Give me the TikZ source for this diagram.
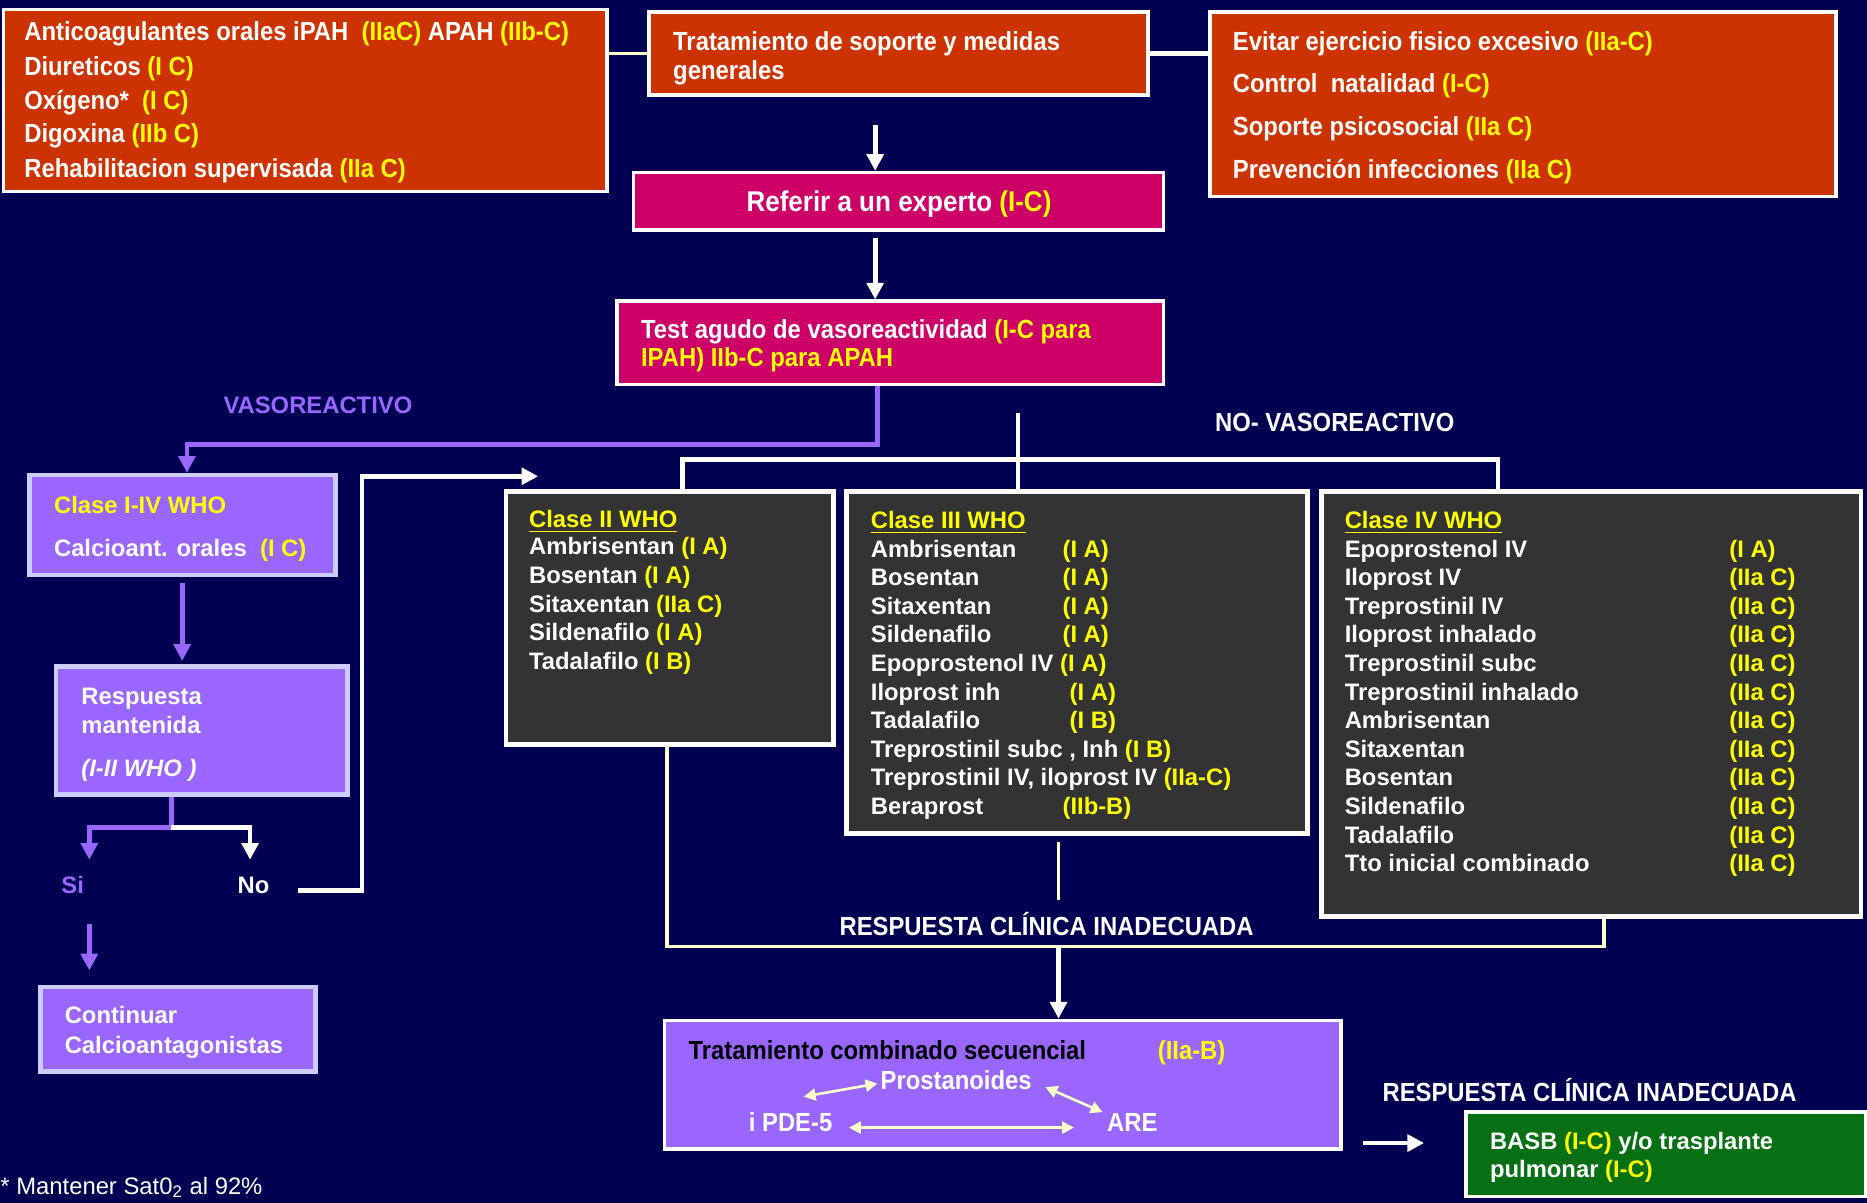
\documentclass[tikz,border=0pt]{standalone}
\usepackage{fontspec}
\setmainfont{Liberation Sans}
\newfontfamily\nf[FakeStretch=0.91]{Liberation Sans}
\usetikzlibrary{arrows.meta,fit}
\definecolor{navy}{RGB}{0,0,82}
\definecolor{orng}{RGB}{204,51,0}
\definecolor{mgnt}{RGB}{204,0,102}
\definecolor{purp}{RGB}{153,102,255}
\definecolor{lav}{RGB}{204,204,255}
\definecolor{dgray}{RGB}{51,51,51}
\definecolor{grn}{RGB}{8,112,20}
\definecolor{yel}{RGB}{255,255,0}
\definecolor{crm}{RGB}{255,255,204}
\newcommand\yl[1]{\textcolor{yel}{#1}}
\begin{document}
\begin{tikzpicture}[x=0.5pt,y=-0.5pt,
 box/.style={draw=white,line width=1.5pt,inner sep=0pt},
 obox/.style={box,fill=orng},
 mbox/.style={box,fill=mgnt},
 pbox/.style={draw=lav,line width=2pt,fill=purp,inner sep=0pt},
 dbox/.style={box,fill=dgray,line width=2pt},
 gbox/.style={box,fill=grn},
 cbox/.style={box,fill=purp},
 ln/.style={anchor=base west,inner sep=0pt,text=white,font=\bfseries\fontsize{10}{12}\selectfont},
 nln/.style={anchor=base west,inner sep=0pt,text=white,font=\nf\bfseries\fontsize{11}{13}\selectfont},
 wline/.style={draw=white,line width=2pt},
 pline/.style={draw=purp,line width=2pt},
 cline/.style={draw=crm,line width=1.5pt},
 tip/.style={-{Triangle[width=7pt,length=7pt]}},
 dbl/.style={draw=crm,line width=1.1pt,{Triangle[width=5pt,length=5pt]}-{Triangle[width=5pt,length=5pt]}},
]
\fill[navy] (0,0) rectangle (1568,1010);
\useasboundingbox (0,0) rectangle (1568,1010);

% ---------- top row ----------
\node[obox,fit={(3,8)(510,161)}] (b1) {};
\node[nln] (b1a) at (20,34) {Anticoagulantes orales iPAH \ \yl{(IIaC)} APAH \yl{(IIb-C)}};
\node[nln] (b1b) at (20,63) {Diureticos \yl{(I C)}};
\node[nln] (b1c) at (20,92) {Oxígeno* \ \yl{(I C)}};
\node[nln] (b1d) at (20,120) {Digoxina \yl{(IIb C)}};
\node[nln] (b1e) at (20,149) {Rehabilitacion supervisada \yl{(IIa C)}};

\node[obox,fit={(545,10)(964,80)}] (b2) {};
\node[nln] (b2a) at (565,42) {Tratamiento de soporte y medidas};
\node[nln] (b2b) at (565,67) {generales};

\node[obox,fit={(1016,10)(1542,165)}] (b3) {};
\node[nln] (b3a) at (1035,42) {Evitar ejercicio fisico excesivo \yl{(IIa-C)}};
\node[nln] (b3b) at (1035,78) {Control \ natalidad \yl{(I-C)}};
\node[nln] (b3c) at (1035,114) {Soporte psicosocial \yl{(IIa C)}};
\node[nln] (b3d) at (1035,150) {Prevención infecciones \yl{(IIa C)}};

\node[mbox,fit={(532,145)(977,193)}] (b4) {};
\node[nln,anchor=base,font=\nf\bfseries\fontsize{12}{14}\selectfont] (b4a) at (755,178) {Referir a un experto \yl{(I-C)}};

\node[mbox,fit={(518,253)(977,323)}] (b5) {};
\node[nln] (b5a) at (538,284) {Test agudo de vasoreactividad \yl{(I-C para}};
\node[nln] (b5b) at (538,308) {\yl{IPAH) IIb-C para APAH}};

% ---------- labels ----------
\node[ln,anchor=base,text=purp] (vaso) at (267,347) {VASOREACTIVO};
\node[nln,anchor=base] (novaso) at (1121,362) {NO- VASOREACTIVO};

% ---------- left column ----------
\node[pbox,fit={(25,399)(282,483)}] (c1) {};
\node[ln] (c1a) at (45,431) {\yl{Clase I-IV WHO}};
\node[ln] (c1b) at (45,467) {Calcioant. orales \ \yl{(I C)}};

\node[pbox,fit={(47,560)(292,667)}] (r1) {};
\node[ln] (r1a) at (68,592) {Respuesta};
\node[ln] (r1b) at (68,616) {mantenida};
\node[ln] (r1c) at (68,652) {\itshape (I-II WHO )};

\node[ln,anchor=base,text=purp] (si) at (61,750) {Si};
\node[ln,anchor=base] (no) at (213,750) {No};

\node[pbox,fit={(34,829)(265,900)}] (cont) {};
\node[ln] (conta) at (54,860) {Continuar};
\node[ln] (contb) at (54,885) {Calcioantagonistas};

\node[anchor=base west,inner sep=0pt,text=white,font=\fontsize{10}{12}\selectfont] (fn) at (0,1003) {* Mantener Sat0\textsubscript{2} al 92\%};

% ---------- class boxes ----------
\node[dbox,fit={(425,413)(700,625)}] (c2) {};
\node[ln] (c2t) at (444,443) {\yl{\underline{Clase II WHO}}};
\node[ln] (c2a) at (444,466) {Ambrisentan \yl{(I A)}};
\node[ln] (c2b) at (444,490) {Bosentan \yl{(I A)}};
\node[ln] (c2c) at (444,514) {Sitaxentan \yl{(IIa C)}};
\node[ln] (c2d) at (444,538) {Sildenafilo \yl{(I A)}};
\node[ln] (c2e) at (444,562) {Tadalafilo \yl{(I B)}};

\node[dbox,fit={(711,413)(1098,700)}] (c3) {};
\node[ln] (c3t) at (731,444) {\yl{\underline{Clase III WHO}}};
\node[ln] (c3a) at (731,468) {Ambrisentan};   \node[ln,text=yel] (c3ar) at (892,468) {(I A)};
\node[ln] (c3b) at (731,492) {Bosentan};      \node[ln,text=yel] (c3br) at (892,492) {(I A)};
\node[ln] (c3c) at (731,516) {Sitaxentan};    \node[ln,text=yel] (c3cr) at (892,516) {(I A)};
\node[ln] (c3d) at (731,540) {Sildenafilo};   \node[ln,text=yel] (c3dr) at (892,540) {(I A)};
\node[ln] (c3e) at (731,564) {Epoprostenol IV}; \node[ln,text=yel] (c3er) at (890,564) {(I A)};
\node[ln] (c3f) at (731,588) {Iloprost inh};  \node[ln,text=yel] (c3fr) at (898,588) {(I A)};
\node[ln] (c3g) at (731,612) {Tadalafilo};    \node[ln,text=yel] (c3gr) at (898,612) {(I B)};
\node[ln] (c3h) at (731,636) {Treprostinil subc , Inh \yl{(I B)}};
\node[ln] (c3i) at (731,660) {Treprostinil IV, iloprost IV \yl{(IIa-C)}};
\node[ln] (c3j) at (731,684) {Beraprost};     \node[ln,text=yel] (c3jr) at (892,684) {(IIb-B)};

\node[dbox,fit={(1110,413)(1563,770)}] (c4) {};
\node[ln] (c4t) at (1129,444) {\yl{\underline{Clase IV WHO}}};
\foreach \n/\r [count=\k] in {{Epoprostenol IV}/{(I A)},{Iloprost IV}/{(IIa C)},{Treprostinil IV}/{(IIa C)},{Iloprost inhalado}/{(IIa C)},{Treprostinil subc}/{(IIa C)},{Treprostinil inhalado}/{(IIa C)},{Ambrisentan}/{(IIa C)},{Sitaxentan}/{(IIa C)},{Bosentan}/{(IIa C)},{Sildenafilo}/{(IIa C)},{Tadalafilo}/{(IIa C)},{Tto inicial combinado}/{(IIa C)}}{
  \node[ln] (c4n\k) at (1129,{444+24*\k}) {\n};
  \node[ln,text=yel] (c4r\k) at (1452,{444+24*\k}) {\r};
}

\node[nln,anchor=base] (resp1) at (879,786) {RESPUESTA CLÍNICA INADECUADA};

% ---------- combined treatment ----------
\node[cbox,fit={(558,857)(1126,965)}] (tc) {};
\node[nln,text=black] (tc1) at (578,890) {Tratamiento combinado secuencial};
\node[nln,text=yel] (tc2) at (972,890) {(IIa-B)};
\node[nln,anchor=base] (pro) at (803,915) {Prostanoides};
\node[nln,anchor=base] (pde) at (664,950) {i PDE-5};
\node[nln,anchor=base] (are) at (951,950) {ARE};
\coordinate (d1) at (675,921); \coordinate (d2) at (737,910);
\coordinate (d3) at (878,913); \coordinate (d4) at (926,934);
\coordinate (d5) at (713,947); \coordinate (d6) at (902,947);
\draw[dbl] (d1) -- (d2);
\draw[dbl] (d3) -- (d4);
\draw[dbl] (d5) -- (d6);

\node[nln,anchor=base] (resp2) at (1335,925) {RESPUESTA CLÍNICA INADECUADA};

\node[gbox,fit={(1231,934)(1567,1005)}] (gr) {};
\node[ln] (gra) at (1251,965) {BASB \yl{(I-C)} y/o trasplante};
\node[ln] (grb) at (1251,989) {pulmonar \yl{(I-C)}};

% ---------- connectors ----------
\draw[cline] (b1.east |- b2.west) -- (b2.west);
\draw[wline] (b2.east) -- (b3.west |- b2.east);
\coordinate (a1) at (735,105);
\draw[wline,tip] (a1) -- (a1 |- b4.north);
\coordinate (a2) at (735,200);
\draw[wline,tip] (a2) -- (a2 |- b5.north);

\coordinate (v0) at (737,373);
\coordinate (v1) at (157,373);
\draw[pline,tip] (b5.south -| v0) -- (v0) -- (v1) -- (v1 |- c1.north);

\coordinate (n0) at (855,347);
\draw[wline] (n0) -- (n0 |- c3.north);
\coordinate (n1) at (573,386); \coordinate (n2) at (1258,386);
\draw[wline] (n1 |- c2.north) -- (n1) -- (n2) -- (n2 |- c4.north);

\coordinate (p1) at (153,490); \coordinate (p2) at (153,555);
\draw[pline,tip] (p1) -- (p2);

\coordinate (s0) at (144,695); \coordinate (sa) at (75,722); \coordinate (na) at (210,722);
\draw[pline,tip] (r1.south -| s0) -- (s0) -| (sa);
\draw[wline,tip] (s0) -| (na);

\coordinate (sb) at (75,776); \coordinate (sc) at (75,815);
\draw[pline,tip] (sb) -- (sc);

\coordinate (nb) at (250,748); \coordinate (nm) at (304,748); \coordinate (nc) at (452,400);
\draw[wline,tip] (nb) -- (nm) |- (nc);

\coordinate (q1) at (560,795); \coordinate (q2) at (1347,795);
\draw[cline] (c2.south -| q1) -- (q1) -- (q2) -- (q2 |- c4.south);
\coordinate (q3) at (889,707); \coordinate (q4) at (889,756);
\draw[cline] (q3) -- (q4);
\coordinate (q5) at (889,795);
\draw[wline,tip] (q5) -- (q5 |- tc.north);

\coordinate (g1) at (1145,960); \coordinate (g2) at (1196,960);
\draw[wline,tip] (g1) -- (g2);
\end{tikzpicture}
\end{document}
